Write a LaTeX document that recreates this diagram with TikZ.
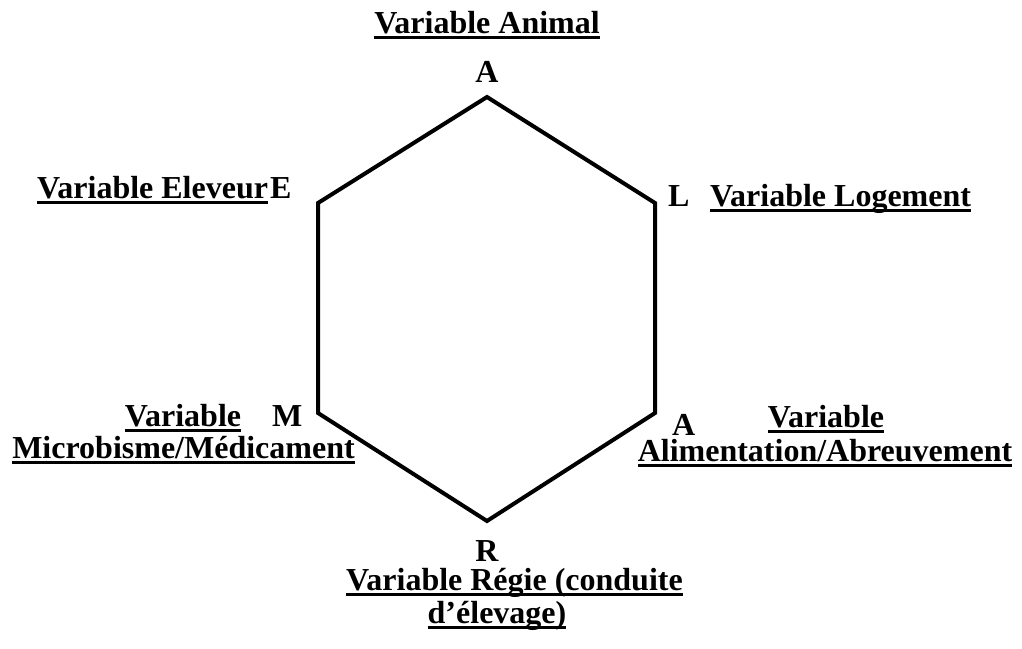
\documentclass[tikz,border=0pt]{standalone}
\usepackage{fontspec}
\setmainfont{Liberation Serif}
\newcommand\myul[1]{\setbox0\hbox{#1}\rlap{\rule[-5.5pt]{\wd0}{3pt}}\box0}
\tikzset{
  lbl/.style={inner sep=0pt, outer sep=0pt, anchor=base west, font=\bfseries\fontsize{32}{38}\selectfont},
  letter/.style={inner sep=0pt, outer sep=0pt, anchor=base west, font=\bfseries\fontsize{32}{38}\selectfont},
  hex/.style={line width=4pt, line join=miter}
}
\begin{document}
\begin{tikzpicture}[x=1pt,y=-1pt]
\useasboundingbox (0,0) rectangle (1022,648);
% hexagon vertices
\coordinate (vA) at (487,97);
\coordinate (vL) at (655,203);
\coordinate (vAl) at (655,413);
\coordinate (vR) at (487,521);
\coordinate (vM) at (318,413);
\coordinate (vE) at (318,203);
\draw[hex] (vA) -- (vL) -- (vAl) -- (vR) -- (vM) -- (vE) -- cycle;
% letters
\node[letter, anchor=base] (lA) at (487,82) {A};
\node[letter] (lE) at (270,198) {E};
\node[letter] (lL) at (668,206) {L};
\node[letter] (lM) at (272,426) {M};
\node[letter] (lAl) at (672,435) {A};
\node[letter, anchor=base] (lR) at (487,561) {R};
% labels
\node[lbl, anchor=base] (tA) at (487,33) {\myul{Variable Animal}};
\node[lbl, anchor=base east] (tE) at (268,198) {\myul{Variable Eleveur}};
\node[lbl] (tL) at (710,206) {\myul{Variable Logement}};
\node[lbl, anchor=base] (tM1) at (183,426) {\myul{Variable}};
\node[lbl, anchor=base] (tM2) at (183.5,458) {\myul{Microbisme/Médicament}};
\node[lbl, anchor=base] (tAl1) at (826,427) {\myul{Variable}};
\node[lbl, anchor=base] (tAl2) at (825,461) {\myul{Alimentation/Abreuvement}};
\node[lbl, anchor=base] (tR1) at (514.5,590) {\myul{Variable Régie (conduite}};
\node[lbl, anchor=base] (tR2) at (497,623) {\myul{d’élevage)}};
\end{tikzpicture}
\end{document}
